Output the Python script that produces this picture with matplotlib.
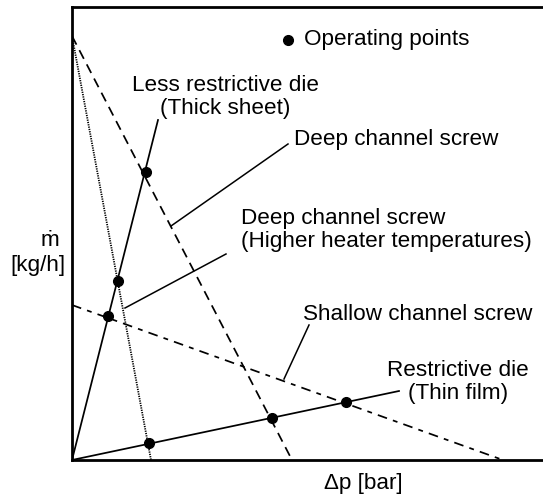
import numpy as np
import matplotlib
matplotlib.use("Agg")
import matplotlib.pyplot as plt

plt.rcParams['font.family'] = ['Liberation Sans', 'DejaVu Sans']
plt.rcParams['lines.scale_dashes'] = False

# screw characteristics: (dp at m=0, m at dp=0)
deep_screw = [220, 424]
hot_screw = [79, 424]
shallow_screw = [431, 155]
# die characteristics: end point of the line through the origin
thick_die = [86, 340]
thin_die = [327, 69]
# operating points
op_dp = [74, 46, 36, 77, 200, 274]
op_m = [288, 179, 144, 17, 42, 58]

FS = 16.2

fig = plt.figure(figsize=(5.43, 4.98), dpi=100)
ax = fig.add_axes([72 / 543, 38 / 498, 471 / 543, 453 / 498])
ax.set_xlim(0, 471)
ax.set_ylim(0, 453)
ax.set_xticks([])
ax.set_yticks([])
for s in ['left', 'bottom', 'top']:
    ax.spines[s].set_linewidth(2.0)
ax.spines['right'].set_visible(False)

lw = 1.25
ax.plot([0, deep_screw[0]], [deep_screw[1], 0], color='k', lw=lw,
        linestyle=(0, (7, 4.5)))
ax.plot([0, hot_screw[0]], [hot_screw[1], 0], color='k', lw=1.3,
        linestyle=(0, (0.9, 0.8)))
ax.plot([0, shallow_screw[0]], [shallow_screw[1], 0], color='k', lw=lw,
        linestyle=(0, (7, 4.5, 3.5, 4.5)))
ax.plot([0, thick_die[0]], [0, thick_die[1]], color='k', lw=lw)
ax.plot([0, thin_die[0]], [0, thin_die[1]], color='k', lw=lw)
ax.plot(op_dp, op_m, 'o', color='k', ms=7, clip_on=False)

# legend
ax.plot([216], [420], 'o', color='k', ms=7)
ax.text(232, 420, "Operating points", fontsize=FS, va='center', ha='left')

# labels and leader lines
ax.text(153, 363, "Less restrictive die\n(Thick sheet)", fontsize=FS,
        ha='center', va='center', linespacing=1.1)
ax.text(222, 321, "Deep channel screw", fontsize=FS, ha='left', va='center')
ax.plot([216, 99], [316, 234], color='k', lw=1.1)
ax.text(169, 230, "Deep channel screw\n(Higher heater temperatures)",
        fontsize=FS, ha='left', va='center', linespacing=1.1)
ax.plot([154, 53], [206, 152], color='k', lw=1.1)
ax.text(231, 146, "Shallow channel screw", fontsize=FS, ha='left', va='center')
ax.plot([237, 212], [135, 81], color='k', lw=1.1)
ax.text(386, 78, "Restrictive die\n(Thin film)", fontsize=FS,
        ha='center', va='center', linespacing=1.1)

ax.text(291, -23, "Δp [bar]", fontsize=FS, ha='center', va='center')
ax.text(-22, 219, "ṁ", fontsize=FS, ha='center', va='center')
ax.text(-34, 195, "[kg/h]", fontsize=FS, ha='center', va='center')

fig.savefig("out.png", dpi=100)
